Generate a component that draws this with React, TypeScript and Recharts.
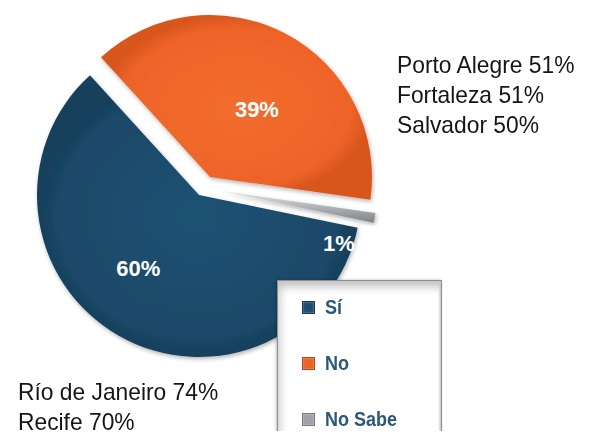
import { PieChart, Pie, Cell, Legend } from "recharts";

// survey answers
const answers = ["Sí", "No", "No Sabe"];
const shares = [60, 39, 1];
const sliceColors = ["url(#gradSi)", "url(#gradNo)", "url(#gradNs)"];
const markerColors = ["#1d4d6e", "#ec6124", "#9ea2a7"];

// city notes around the pie
const noCities = ["Porto Alegre", "Fortaleza", "Salvador"];
const noCityShares = [51, 51, 50];
const siCities = ["Río de Janeiro", "Recife"];
const siCityShares = [74, 70];

const data = answers.map((name, i) => ({ name, value: shares[i] }));

// one Pie per slice so each can be pulled out on its own
const explode = [
  { dx: 0, dy: 0, r: 162, labelR: 95, labelShift: -10 },
  { dx: 11, dy: -18, r: 162, labelR: 82, labelShift: -7 },
  { dx: 22, dy: -4, r: 156, labelR: 129, labelShift: -14 },
];

const CX = 199;
const CY = 195;
const RADIAN = Math.PI / 180;
const sans = '"Liberation Sans", Arial, Helvetica, sans-serif';

function makeLabel(visible: number) {
  return (props: any) => {
    const { cx, cy, midAngle, index, value } = props;
    if (index !== visible) return null;
    const e = explode[visible];
    const a = (midAngle + e.labelShift) * RADIAN;
    const x = cx + e.labelR * Math.cos(a);
    const y = cy - e.labelR * Math.sin(a);
    return (
      <text
        x={x}
        y={y}
        fill="#ffffff"
        textAnchor="middle"
        dominantBaseline="central"
        fontFamily={sans}
        fontWeight="bold"
        fontSize={22}
      >
        {`${value}%`}
      </text>
    );
  };
}

function LegendBox() {
  return (
    <div
      style={{
        width: 165,
        height: 170,
        background: "#fff",
        border: "1px solid #8f8f8f",
        boxShadow:
          "inset 0 12px 9px -6px #c4c4c4, inset 9px 0 8px -6px #d2d2d2, inset -3px 0 3px -2px #b5b5b5, -1px 0 3px rgba(0,0,0,0.25)",
        boxSizing: "border-box",
        paddingTop: 14,
      }}
    >
      {answers.map((a, i) => (
        <div
          key={a}
          style={{
            display: "flex",
            alignItems: "center",
            height: 56,
            marginTop: i === 0 ? -16 : 0,
            paddingLeft: 24,
          }}
        >
          <span
            style={{
              display: "inline-block",
              width: 11,
              height: 11,
              background: markerColors[i],
              boxShadow: "inset 0 0 2px rgba(255,255,255,0.6)",
              border: "1px solid rgba(0,0,0,0.25)",
              marginRight: 10,
            }}
          />
          <span
            style={{
              fontFamily: sans,
              fontWeight: "bold",
              fontSize: 20,
              color: "#2a5877",
              display: "inline-block",
              transform: "scaleX(0.9)",
              transformOrigin: "left center",
            }}
          >
            {a}
          </span>
        </div>
      ))}
    </div>
  );
}

const noteStyle = {
  position: "absolute" as const,
  fontFamily: sans,
  fontSize: 24,
  lineHeight: "30px",
  color: "#151515",
  whiteSpace: "nowrap" as const,
  transform: "scaleX(0.95)",
  transformOrigin: "left top",
};

export default function App() {
  return (
    <div
      style={{
        position: "relative",
        width: 589,
        height: 439,
        margin: -8,
        background: "#fff",
        overflow: "hidden",
      }}
    >
      <PieChart width={589} height={439} margin={{ top: 0, right: 0, bottom: 0, left: 0 }}>
        <defs>
          <radialGradient id="gradSi" cx="50%" cy="50%" r="50%">
            <stop offset="0%" stopColor="#1f5273" />
            <stop offset="85%" stopColor="#1b4969" />
            <stop offset="100%" stopColor="#163f5b" />
          </radialGradient>
          <radialGradient id="gradNo" cx="50%" cy="50%" r="50%">
            <stop offset="0%" stopColor="#f26d2e" />
            <stop offset="85%" stopColor="#ee6328" />
            <stop offset="100%" stopColor="#d8561d" />
          </radialGradient>
          <linearGradient id="gradNs" x1="0" y1="0" x2="0" y2="1">
            <stop offset="0%" stopColor="#e4e6e8" />
            <stop offset="100%" stopColor="#7d8186" />
          </linearGradient>
          <filter id="shade" x="-10%" y="-10%" width="120%" height="120%">
            <feDropShadow dx="1" dy="2" stdDeviation="2" floodColor="#000" floodOpacity="0.3" />
          </filter>
        </defs>
        {explode.map((e, k) => (
          <Pie
            key={k}
            data={data}
            dataKey="value"
            nameKey="name"
            cx={CX + e.dx}
            cy={CY + e.dy}
            outerRadius={e.r}
            startAngle={-11.7}
            endAngle={-371.7}
            stroke="none"
            labelLine={false}
            label={makeLabel(k)}
            isAnimationActive={false}
            legendType="none"
          >
            {data.map((_, i) => (
              <Cell
                key={`cell-${i}`}
                fill={i === k ? sliceColors[i] : "transparent"}
                stroke="none"
                style={i === k ? { filter: "url(#shade)" } : undefined}
              />
            ))}
          </Pie>
        ))}
        <Legend
          content={() => <LegendBox />}
          wrapperStyle={{ position: "absolute", left: 277, top: 280, width: 165, height: 170 }}
        />
      </PieChart>
      <div style={{ ...noteStyle, left: 397, top: 50 }}>
        {noCities.map((c, i) => (
          <div key={c}>{`${c} ${noCityShares[i]}%`}</div>
        ))}
      </div>
      <div style={{ ...noteStyle, left: 18, top: 377 }}>
        {siCities.map((c, i) => (
          <div key={c}>{`${c} ${siCityShares[i]}%`}</div>
        ))}
      </div>
    </div>
  );
}
